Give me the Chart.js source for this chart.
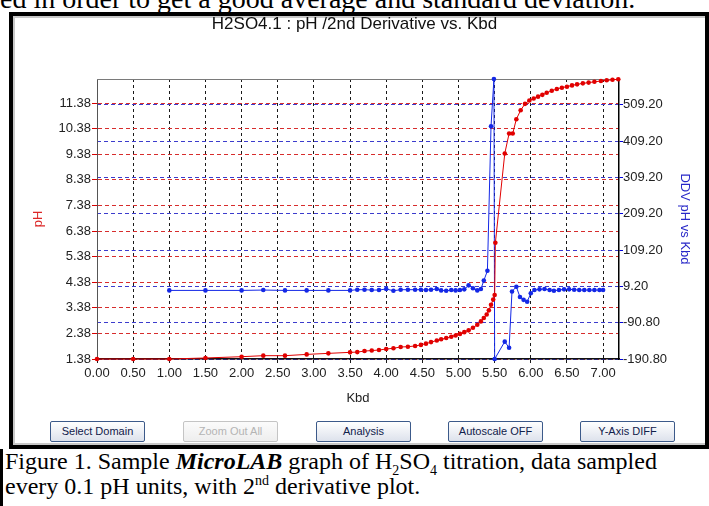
<!DOCTYPE html>
<html>
<head>
<meta charset="utf-8">
<script src="https://cdn.jsdelivr.net/npm/chart.js@4.4.0/dist/chart.umd.min.js"></script>
<style>
  body { margin: 0; width: 709px; height: 506px; overflow: hidden; background: #fff; position: relative;
         font-family: "Liberation Serif", "Times New Roman", serif; }
  #topText { position: absolute; left: 0; top: -15px; font-size: 28px; line-height: 28px; white-space: nowrap; color: #000; }
  #frame { position: absolute; left: 9px; top: 12px; width: 700px; height: 437px; box-sizing: border-box; border: 4px solid #000; }
  #inner { position: absolute; left: 0; top: 0; right: 0; bottom: 0; border-top: 2px solid #c8c8c8; border-left: 2px solid #c8c8c8; border-bottom: 2px solid #c8c8c8; }
  #chartBox { position: absolute; left: 0; top: 0; width: 709px; height: 409px; }
  .btn { position: absolute; top: 421px; width: 95px; height: 21px; box-sizing: border-box; border: 1px solid #3c5a8a; border-radius: 2px;
         background: linear-gradient(#ffffff, #dde2ec); font: 11px "Liberation Sans", Arial, sans-serif; color: #10204a;
         text-align: center; line-height: 19px; }
  .btn.dis { color: #b4b4b4; border-color: #c4c4c4; background: linear-gradient(#fbfbfb, #eeeeee); }
  #capBar { position: absolute; left: 0; top: 449px; width: 3px; height: 57px; background: #000; }
  #caption { position: absolute; left: 5px; top: 449px; font-size: 24px; line-height: 25px; white-space: nowrap; color: #000; }
  #caption sub, #caption sup { font-size: 14px; line-height: 0; }
</style>
</head>
<body>
<div id="topText">ed in order to get a good average and standard deviation.</div>
<div id="frame"><div id="inner"></div></div>
<div id="chartBox"><canvas id="titrationChart" width="709" height="409"></canvas></div>
<div class="btn" style="left:50px">Select Domain</div>
<div class="btn dis" style="left:183px">Zoom Out All</div>
<div class="btn" style="left:316px">Analysis</div>
<div class="btn" style="left:448px">Autoscale OFF</div>
<div class="btn" style="left:580px">Y-Axis DIFF</div>
<div id="capBar"></div>
<div id="caption">Figure 1. Sample <b><i>MicroLAB</i></b> graph of H<sub>2</sub>SO<sub>4</sub> titration, data sampled<br>every 0.1 pH units, with 2<sup>nd</sup> derivative plot.</div>
<script>
// pH curve
const phKbd = [0.00, 0.50, 1.00, 1.50, 2.00, 2.30, 2.60, 2.90, 3.20, 3.50, 3.60, 3.70, 3.80, 3.90, 4.00, 4.10,
    4.20, 4.30, 4.40, 4.48, 4.55, 4.62, 4.70, 4.76, 4.83, 4.90, 4.96, 5.02, 5.08, 5.14, 5.20, 5.26, 5.31,
    5.35, 5.39, 5.42, 5.45, 5.48, 5.50, 5.51, 5.64, 5.70, 5.75, 5.80, 5.86, 5.92, 5.98, 6.04, 6.10, 6.16,
    6.22, 6.29, 6.36, 6.43, 6.50, 6.57, 6.64, 6.72, 6.80, 6.88, 6.97, 7.05, 7.13, 7.21];
const phValues = [1.38, 1.38, 1.38, 1.42, 1.47, 1.51, 1.51, 1.56, 1.60, 1.64, 1.65, 1.69, 1.71, 1.73, 1.77, 1.80,
    1.85, 1.86, 1.89, 1.93, 1.98, 2.04, 2.10, 2.15, 2.20, 2.25, 2.30, 2.36, 2.43, 2.50, 2.60, 2.72, 2.85,
    2.98, 3.12, 3.28, 3.50, 3.70, 3.88, 5.92, 9.41, 10.19, 10.19, 10.75, 11.10, 11.35, 11.48, 11.56, 11.63, 11.70,
    11.78, 11.86, 11.93, 11.98, 12.02, 12.07, 12.11, 12.15, 12.18, 12.21, 12.24, 12.27, 12.29, 12.31];

// 2nd derivative curve
const ddvKbd = [1.00, 1.50, 2.00, 2.30, 2.60, 2.90, 3.20, 3.50, 3.60, 3.70, 3.80, 3.90, 4.00, 4.10, 4.20, 4.30,
    4.40, 4.48, 4.55, 4.62, 4.70, 4.76, 4.83, 4.90, 4.96, 5.02, 5.08, 5.14, 5.20, 5.26, 5.31, 5.35, 5.40,
    5.45, 5.49, 5.50, 5.64, 5.70, 5.74, 5.80, 5.85, 5.90, 5.95, 6.00, 6.05, 6.12, 6.19, 6.26, 6.32, 6.39,
    6.46, 6.53, 6.60, 6.67, 6.74, 6.81, 6.88, 6.95, 7.00];
const ddvValues = [-2, -2, -2, -1, -2, -2, -2, -2, 0, 0, -1, -1, 2, -3, 0, 0,
    0, 0, -1, 0, 2, -2, -3, -1, -2, -1, 1, 12, 4, -2, 2, 25, 52,
    450, 580, -190.8, -143, -160, -5, 8, -20, -28, -33, -10, -1, 1, 2, -1, -3, -1,
    1, 1, 0, -1, -1, -1, -1, -1, -1];

const kbdTicks = [0, 0.5, 1, 1.5, 2, 2.5, 3, 3.5, 4, 4.5, 5, 5.5, 6, 6.5, 7];
const phTicks = [1.38, 2.38, 3.38, 4.38, 5.38, 6.38, 7.38, 8.38, 9.38, 10.38, 11.38];
const ddvTicks = [-190.8, -90.8, 9.2, 109.2, 209.2, 309.2, 409.2, 509.2];

const tickFont = { family: 'Liberation Sans, Arial, sans-serif', size: 13 };

// thin line along the top of the plot area
const plotBox = {
    id: 'plotBox',
    beforeDatasetsDraw(chart) {
        const a = chart.chartArea;
        const ctx = chart.ctx;
        ctx.save();
        ctx.strokeStyle = '#7a7a7a';
        ctx.lineWidth = 1;
        ctx.beginPath();
        ctx.moveTo(a.left, a.top + 0.5);
        ctx.lineTo(a.right, a.top + 0.5);
        ctx.stroke();
        ctx.restore();
    }
};

const ctx = document.getElementById('titrationChart').getContext('2d');
new Chart(ctx, {
    type: 'scatter',
    data: {
        datasets: [
            {
                label: 'pH',
                data: phKbd.map((x, i) => ({ x: x, y: phValues[i] })),
                yAxisID: 'y',
                showLine: true,
                borderColor: 'rgb(225,0,0)',
                backgroundColor: 'rgb(225,0,0)',
                borderWidth: 1,
                pointRadius: 2.3,
                pointBorderWidth: 0,
                clip: false
            },
            {
                label: 'DDV pH vs Kbd',
                data: ddvKbd.map((x, i) => ({ x: x, y: ddvValues[i] })),
                yAxisID: 'y2',
                showLine: true,
                borderColor: 'rgb(20,40,230)',
                backgroundColor: 'rgb(20,40,230)',
                borderWidth: 1,
                pointRadius: 2.3,
                pointBorderWidth: 0,
                clip: false
            }
        ]
    },
    options: {
        responsive: false,
        animation: false,
        devicePixelRatio: 1,
        layout: { padding: 0 },
        plugins: {
            legend: { display: false },
            tooltip: { enabled: false },
            title: {
                display: true,
                text: 'H2SO4.1 : pH /2nd Derivative vs. Kbd',
                color: '#111',
                font: { family: 'Liberation Sans, Arial, sans-serif', size: 17, weight: 'normal' },
                padding: { top: 14, bottom: 44.6 }
            }
        },
        scales: {
            x: {
                type: 'linear',
                min: 0,
                max: 7.22,
                afterBuildTicks: s => { s.ticks = kbdTicks.map(v => ({ value: v })); },
                afterFit: s => { s.height = 50; },
                ticks: { callback: v => v.toFixed(2), color: '#222', font: tickFont, padding: 3, maxRotation: 0, autoSkip: false },
                grid: { color: '#1a1a1a', tickColor: '#1a1a1a', tickLength: 4, lineWidth: 1 },
                border: { color: '#111', width: 1.5, dash: [3, 3] },
                title: { display: true, text: 'Kbd', color: '#222', font: tickFont, padding: { top: 0, bottom: 3 } }
            },
            y: {
                position: 'left',
                min: 1.38,
                max: 12.32,
                afterBuildTicks: s => { s.ticks = phTicks.map(v => ({ value: v })); },
                afterFit: s => { s.width = 97; },
                ticks: { callback: v => v.toFixed(2), color: '#222', font: tickFont, padding: 1, autoSkip: false },
                grid: { color: 'rgb(215,45,45)', tickColor: 'rgb(215,0,0)', tickLength: 5, lineWidth: 1 },
                border: { color: '#555', width: 1, dash: [4, 3] },
                title: { display: true, text: 'pH', color: 'rgb(220,40,40)', font: tickFont, padding: { top: 31, bottom: 0 } }
            },
            y2: {
                position: 'right',
                min: -190.8,
                max: 580,
                afterBuildTicks: s => { s.ticks = ddvTicks.map(v => ({ value: v })); },
                afterFit: s => { s.width = 90; },
                ticks: { callback: v => v.toFixed(2), color: '#222', font: tickFont, padding: 0, autoSkip: false },
                grid: { color: 'rgb(60,60,205)', tickColor: 'rgb(0,0,220)', tickLength: 4, lineWidth: 1 },
                border: { color: '#000', width: 1.5, dash: [4, 3] },
                title: { display: true, text: 'DDV pH vs Kbd', color: 'rgb(40,40,200)', font: tickFont, padding: { top: 17, bottom: 0 } }
            }
        }
    },
    plugins: [plotBox]
});
</script>
</body>
</html>
